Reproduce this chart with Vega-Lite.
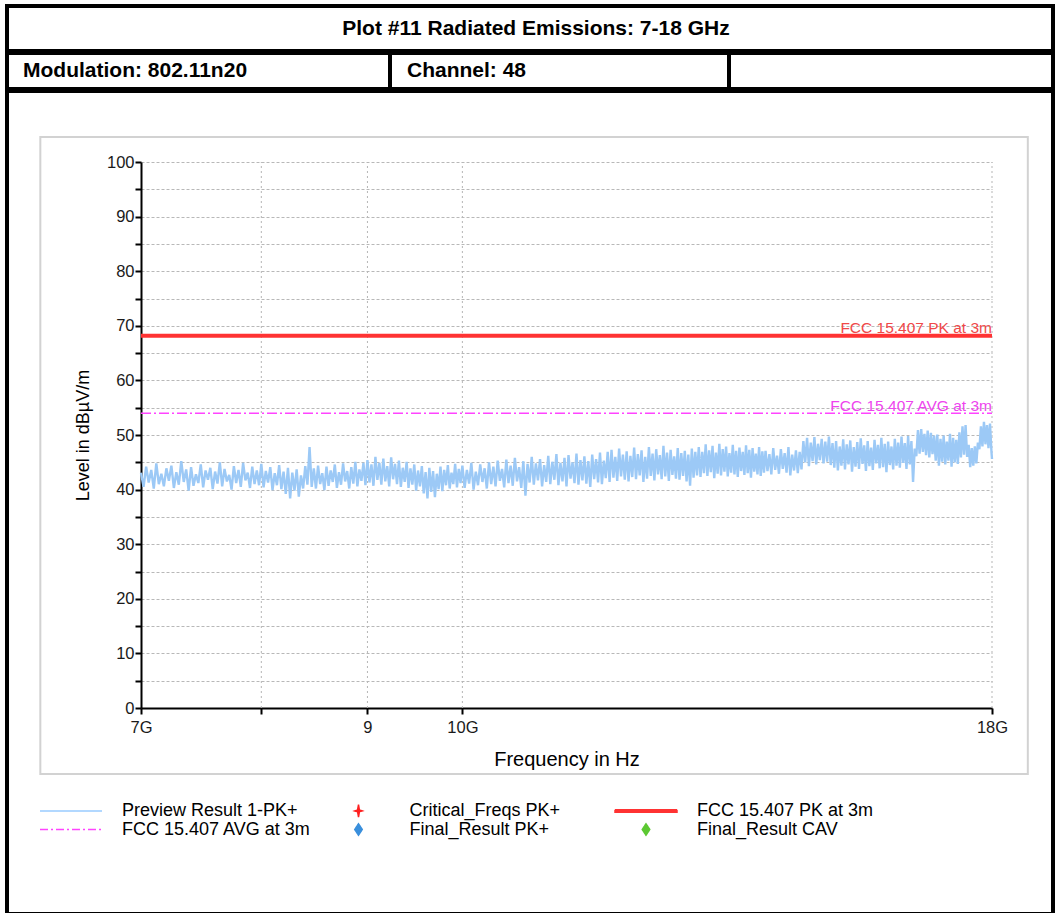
{
  "$schema": "https://vega.github.io/schema/vega-lite/v6.json",
  "background": "white",
  "padding": {"left": 5, "top": 4, "right": 0, "bottom": 0},
  "bounds": "full",
  "spacing": -4,
  "config": {
    "font": "Liberation Sans",
    "view": {"stroke": "black", "strokeWidth": 4},
    "concat": {"spacing": 0},
    "legend": {
      "orient": "none", "legendX": 55, "legendY": 795.5,
      "direction": "horizontal", "columns": 3, "gridAlign": "all",
      "columnPadding": 13.5, "rowPadding": -1, "padding": 0,
      "symbolSize": 100, "symbolOffset": 0, "symbolStrokeWidth": 1.5, "labelOffset": 42,
      "labelFontSize": 18, "labelColor": "black", "labelLimit": 400, "labelFont": "Liberation Sans"
    }
  },
  "vconcat": [
    {
      "width": 1046,
      "height": 45,
      "view": {"style": "cell", "stroke": "black", "strokeWidth": 4},
      "data": {"values": [{"t": "Plot #11 Radiated Emissions: 7-18 GHz"}]},
      "mark": {"type": "text", "fontSize": 21, "fontWeight": "bold", "baseline": "middle", "align": "center", "dx": 6, "color": "black"},
      "encoding": {"text": {"field": "t"}}
    },
    {
      "bounds": "flush",
      "spacing": 0,
      "hconcat": [
        {
          "width": 383,
          "height": 36,
          "view": {"style": "cell", "stroke": "black", "strokeWidth": 4},
          "data": {"values": [{"t": "Modulation: 802.11n20"}]},
          "mark": {"type": "text", "fontSize": 21, "fontWeight": "bold", "baseline": "middle", "align": "left", "dx": -175.5, "color": "black"},
          "encoding": {"text": {"field": "t"}}
        },
        {
          "width": 339,
          "height": 36,
          "view": {"style": "cell", "stroke": "black", "strokeWidth": 4},
          "data": {"values": [{"t": "Channel: 48"}]},
          "mark": {"type": "text", "fontSize": 21, "fontWeight": "bold", "baseline": "middle", "align": "left", "dx": -152.5, "color": "black"},
          "encoding": {"text": {"field": "t"}}
        },
        {
          "width": 324,
          "height": 36,
          "view": {"style": "cell", "stroke": "black", "strokeWidth": 4},
          "data": {"values": [{"t": ""}]},
          "mark": {"type": "text", "fontSize": 21},
          "encoding": {"text": {"field": "t"}}
        }
      ]
    },
    {
      "width": 1046,
      "height": 823,
      "layer": [
        {
          "data": {"values": [{}]},
          "mark": {"type": "rect", "fill": "transparent", "stroke": "#d2d2d2", "strokeWidth": 2},
          "encoding": {
            "x": {"datum": 6.26, "type": "quantitative"},
            "x2": {"datum": 18.73},
            "y": {"datum": -12.1, "type": "quantitative"},
            "y2": {"datum": 104.6}
          }
        },
        {
          "data": {"values": [{"f": 8}, {"f": 9}, {"f": 10}, {"f": 18}]},
          "mark": {"type": "rule", "color": "#b5b5b5", "strokeWidth": 1, "strokeDash": [2, 3]},
          "encoding": {
            "x": {"field": "f", "type": "quantitative"},
            "y": {"datum": 0, "type": "quantitative"},
            "y2": {"datum": 100}
          }
        },
        {
          "data": {"values": [
            {"f":7.00,"v":43.1},{"f":7.02,"v":40.5},{"f":7.04,"v":44.2},{"f":7.06,"v":41.3},{"f":7.08,"v":43.6},
            {"f":7.10,"v":40.2},{"f":7.12,"v":44.8},{"f":7.14,"v":41.0},{"f":7.16,"v":42.9},{"f":7.18,"v":40.6},
            {"f":7.20,"v":43.9},{"f":7.22,"v":41.6},{"f":7.24,"v":44.4},{"f":7.26,"v":40.3},{"f":7.28,"v":43.2},
            {"f":7.30,"v":40.9},{"f":7.32,"v":45.2},{"f":7.34,"v":41.4},{"f":7.36,"v":43.7},{"f":7.38,"v":39.8},
            {"f":7.40,"v":44.1},{"f":7.42,"v":40.7},{"f":7.44,"v":42.8},{"f":7.46,"v":41.2},{"f":7.48,"v":44.6},
            {"f":7.50,"v":40.4},{"f":7.52,"v":43.5},{"f":7.54,"v":41.8},{"f":7.56,"v":44.0},{"f":7.58,"v":40.1},
            {"f":7.60,"v":43.3},{"f":7.62,"v":41.1},{"f":7.64,"v":45.0},{"f":7.66,"v":40.6},{"f":7.68,"v":43.8},
            {"f":7.70,"v":41.5},{"f":7.72,"v":42.7},{"f":7.74,"v":40.0},{"f":7.76,"v":44.3},{"f":7.78,"v":41.2},
            {"f":7.80,"v":43.6},{"f":7.82,"v":40.5},{"f":7.84,"v":44.9},{"f":7.86,"v":41.7},{"f":7.88,"v":43.1},
            {"f":7.90,"v":40.3},{"f":7.92,"v":44.2},{"f":7.94,"v":41.0},{"f":7.96,"v":43.5},{"f":7.98,"v":40.8},
            {"f":8.00,"v":44.7},{"f":8.02,"v":40.4},{"f":8.04,"v":43.4},{"f":8.06,"v":41.3},{"f":8.08,"v":44.1},
            {"f":8.10,"v":39.9},{"f":8.12,"v":43.0},{"f":8.14,"v":40.8},{"f":8.16,"v":44.5},{"f":8.18,"v":40.1},
            {"f":8.20,"v":43.3},{"f":8.22,"v":39.2},{"f":8.24,"v":44.0},{"f":8.26,"v":38.4},{"f":8.28,"v":43.1},
            {"f":8.30,"v":39.8},{"f":8.32,"v":43.7},{"f":8.34,"v":38.7},{"f":8.36,"v":42.6},{"f":8.38,"v":40.2},
            {"f":8.40,"v":44.3},{"f":8.42,"v":40.9},{"f":8.44,"v":47.8},{"f":8.46,"v":40.5},{"f":8.48,"v":43.9},
            {"f":8.50,"v":40.2},{"f":8.52,"v":44.4},{"f":8.54,"v":41.0},{"f":8.56,"v":43.0},{"f":8.58,"v":39.9},
            {"f":8.60,"v":44.2},{"f":8.62,"v":40.7},{"f":8.64,"v":43.5},{"f":8.66,"v":41.4},{"f":8.68,"v":44.6},
            {"f":8.70,"v":40.3},{"f":8.72,"v":43.2},{"f":8.74,"v":40.9},{"f":8.76,"v":44.8},{"f":8.78,"v":41.5},
            {"f":8.80,"v":43.4},{"f":8.82,"v":40.2},{"f":8.84,"v":44.1},{"f":8.86,"v":41.1},{"f":8.88,"v":45.1},
            {"f":8.90,"v":40.6},{"f":8.92,"v":43.7},{"f":8.94,"v":41.6},{"f":8.96,"v":44.9},{"f":8.98,"v":40.8},
            {"f":9.00,"v":45.4},{"f":9.02,"v":41.3},{"f":9.04,"v":44.6},{"f":9.06,"v":40.7},{"f":9.08,"v":46.0},
            {"f":9.10,"v":41.8},{"f":9.12,"v":44.9},{"f":9.14,"v":40.9},{"f":9.16,"v":45.7},{"f":9.18,"v":41.5},
            {"f":9.20,"v":44.3},{"f":9.22,"v":40.6},{"f":9.24,"v":45.9},{"f":9.26,"v":41.9},{"f":9.28,"v":44.7},
            {"f":9.30,"v":41.0},{"f":9.32,"v":45.3},{"f":9.34,"v":40.5},{"f":9.36,"v":44.0},{"f":9.38,"v":41.4},
            {"f":9.40,"v":45.1},{"f":9.42,"v":40.3},{"f":9.44,"v":43.9},{"f":9.46,"v":40.9},{"f":9.48,"v":44.6},
            {"f":9.50,"v":39.8},{"f":9.52,"v":43.5},{"f":9.54,"v":40.6},{"f":9.56,"v":44.3},{"f":9.58,"v":39.3},
            {"f":9.60,"v":43.2},{"f":9.62,"v":38.4},{"f":9.64,"v":44.0},{"f":9.66,"v":39.6},{"f":9.68,"v":43.4},
            {"f":9.70,"v":38.6},{"f":9.72,"v":42.9},{"f":9.74,"v":40.1},{"f":9.76,"v":44.2},{"f":9.78,"v":39.7},
            {"f":9.80,"v":43.6},{"f":9.82,"v":40.8},{"f":9.84,"v":44.5},{"f":9.86,"v":40.2},{"f":9.88,"v":43.1},
            {"f":9.90,"v":41.0},{"f":9.92,"v":44.7},{"f":9.94,"v":40.4},{"f":9.96,"v":43.8},{"f":9.98,"v":41.2},
            {"f":10.000,"v":44.4},{"f":10.025,"v":40.3},{"f":10.050,"v":43.6},{"f":10.075,"v":41.1},{"f":10.100,"v":44.9},
            {"f":10.125,"v":40.0},{"f":10.150,"v":43.3},{"f":10.175,"v":40.8},{"f":10.200,"v":44.6},{"f":10.225,"v":41.4},
            {"f":10.250,"v":43.9},{"f":10.275,"v":40.2},{"f":10.300,"v":45.0},{"f":10.325,"v":41.0},{"f":10.350,"v":44.2},
            {"f":10.375,"v":40.6},{"f":10.400,"v":45.3},{"f":10.425,"v":41.6},{"f":10.450,"v":43.8},{"f":10.475,"v":40.4},
            {"f":10.500,"v":45.5},{"f":10.525,"v":41.2},{"f":10.550,"v":44.4},{"f":10.575,"v":40.7},{"f":10.600,"v":45.8},
            {"f":10.625,"v":41.5},{"f":10.650,"v":44.1},{"f":10.675,"v":40.3},{"f":10.700,"v":45.2},{"f":10.725,"v":38.9},
            {"f":10.750,"v":44.7},{"f":10.775,"v":41.3},{"f":10.800,"v":46.0},{"f":10.825,"v":40.9},{"f":10.850,"v":44.8},
            {"f":10.875,"v":41.7},{"f":10.900,"v":45.6},{"f":10.925,"v":40.6},{"f":10.950,"v":44.5},{"f":10.975,"v":41.4},
            {"f":11.000,"v":46.2},{"f":11.025,"v":41.0},{"f":11.050,"v":45.1},{"f":11.075,"v":41.8},{"f":11.100,"v":46.5},
            {"f":11.125,"v":40.8},{"f":11.150,"v":44.9},{"f":11.175,"v":41.5},{"f":11.200,"v":45.8},{"f":11.225,"v":40.6},
            {"f":11.250,"v":46.3},{"f":11.275,"v":42.0},{"f":11.300,"v":45.0},{"f":11.325,"v":41.2},{"f":11.350,"v":46.6},
            {"f":11.375,"v":40.9},{"f":11.400,"v":45.4},{"f":11.425,"v":41.7},{"f":11.450,"v":46.1},{"f":11.475,"v":41.1},
            {"f":11.500,"v":45.2},{"f":11.525,"v":40.5},{"f":11.550,"v":46.4},{"f":11.575,"v":41.9},{"f":11.600,"v":45.6},
            {"f":11.625,"v":41.3},{"f":11.650,"v":46.8},{"f":11.675,"v":41.0},{"f":11.700,"v":45.3},{"f":11.725,"v":42.1},
            {"f":11.750,"v":46.9},{"f":11.775,"v":41.4},{"f":11.800,"v":47.3},{"f":11.825,"v":42.2},{"f":11.850,"v":46.0},
            {"f":11.875,"v":41.6},{"f":11.900,"v":47.5},{"f":11.925,"v":42.4},{"f":11.950,"v":46.4},{"f":11.975,"v":41.8},
            {"f":12.000,"v":47.0},{"f":12.025,"v":41.5},{"f":12.050,"v":46.2},{"f":12.075,"v":42.3},{"f":12.100,"v":47.7},
            {"f":12.125,"v":41.9},{"f":12.150,"v":46.5},{"f":12.175,"v":42.6},{"f":12.200,"v":47.2},{"f":12.225,"v":41.4},
            {"f":12.250,"v":46.0},{"f":12.275,"v":42.0},{"f":12.300,"v":47.8},{"f":12.325,"v":42.5},{"f":12.350,"v":46.6},
            {"f":12.375,"v":41.7},{"f":12.400,"v":47.4},{"f":12.425,"v":42.8},{"f":12.450,"v":46.3},{"f":12.475,"v":41.9},
            {"f":12.500,"v":48.0},{"f":12.525,"v":42.4},{"f":12.550,"v":46.8},{"f":12.575,"v":41.6},{"f":12.600,"v":47.3},
            {"f":12.625,"v":42.7},{"f":12.650,"v":46.1},{"f":12.675,"v":42.0},{"f":12.700,"v":47.6},{"f":12.725,"v":41.8},
            {"f":12.750,"v":46.7},{"f":12.775,"v":42.5},{"f":12.800,"v":47.1},{"f":12.825,"v":41.5},{"f":12.850,"v":46.4},
            {"f":12.875,"v":40.7},{"f":12.900,"v":47.5},{"f":12.925,"v":42.2},{"f":12.950,"v":46.9},{"f":12.975,"v":42.6},
            {"f":13.000,"v":47.8},{"f":13.025,"v":42.3},{"f":13.050,"v":46.9},{"f":13.075,"v":43.0},{"f":13.100,"v":48.3},
            {"f":13.125,"v":42.5},{"f":13.150,"v":47.2},{"f":13.175,"v":43.2},{"f":13.200,"v":48.0},{"f":13.225,"v":42.1},
            {"f":13.250,"v":46.8},{"f":13.275,"v":42.9},{"f":13.300,"v":48.4},{"f":13.325,"v":42.6},{"f":13.350,"v":47.4},
            {"f":13.375,"v":43.3},{"f":13.400,"v":47.9},{"f":13.425,"v":42.4},{"f":13.450,"v":46.7},{"f":13.475,"v":43.1},
            {"f":13.500,"v":48.2},{"f":13.525,"v":42.8},{"f":13.550,"v":47.1},{"f":13.575,"v":42.3},{"f":13.600,"v":47.7},
            {"f":13.625,"v":43.4},{"f":13.650,"v":46.9},{"f":13.675,"v":42.7},{"f":13.700,"v":48.1},{"f":13.725,"v":43.0},
            {"f":13.750,"v":47.3},{"f":13.775,"v":42.2},{"f":13.800,"v":47.6},{"f":13.825,"v":43.3},{"f":13.850,"v":46.6},
            {"f":13.875,"v":42.8},{"f":13.900,"v":47.8},{"f":13.925,"v":42.5},{"f":13.950,"v":47.0},{"f":13.975,"v":43.1},
            {"f":14.00,"v":47.1},{"f":14.03,"v":43.4},{"f":14.06,"v":46.5},{"f":14.09,"v":42.8},{"f":14.12,"v":47.6},
            {"f":14.15,"v":43.6},{"f":14.18,"v":46.2},{"f":14.21,"v":42.9},{"f":14.24,"v":47.4},{"f":14.27,"v":43.8},
            {"f":14.30,"v":46.7},{"f":14.33,"v":43.1},{"f":14.36,"v":47.8},{"f":14.39,"v":42.6},{"f":14.42,"v":46.4},
            {"f":14.45,"v":43.5},{"f":14.48,"v":47.2},{"f":14.51,"v":43.0},{"f":14.54,"v":46.9},{"f":14.57,"v":43.7},
            {"f":14.60,"v":48.9},{"f":14.63,"v":45.0},{"f":14.66,"v":49.5},{"f":14.69,"v":44.3},{"f":14.72,"v":48.6},
            {"f":14.75,"v":45.2},{"f":14.78,"v":49.6},{"f":14.81,"v":44.6},{"f":14.84,"v":48.4},{"f":14.87,"v":45.4},
            {"f":14.90,"v":49.3},{"f":14.93,"v":44.8},{"f":14.96,"v":48.8},{"f":14.99,"v":45.1},{"f":15.02,"v":49.7},
            {"f":15.05,"v":44.5},{"f":15.08,"v":48.5},{"f":15.11,"v":44.0},{"f":15.14,"v":48.9},{"f":15.17,"v":43.5},
            {"f":15.20,"v":47.9},{"f":15.23,"v":44.4},{"f":15.26,"v":49.2},{"f":15.29,"v":43.7},{"f":15.32,"v":48.3},
            {"f":15.35,"v":44.6},{"f":15.38,"v":49.0},{"f":15.41,"v":43.3},{"f":15.44,"v":47.8},{"f":15.47,"v":44.2},
            {"f":15.50,"v":48.7},{"f":15.53,"v":43.8},{"f":15.56,"v":49.4},{"f":15.59,"v":44.7},{"f":15.62,"v":48.1},
            {"f":15.65,"v":43.4},{"f":15.68,"v":48.9},{"f":15.71,"v":44.3},{"f":15.74,"v":47.7},{"f":15.77,"v":43.6},
            {"f":15.80,"v":49.1},{"f":15.83,"v":44.8},{"f":15.86,"v":48.2},{"f":15.89,"v":43.9},{"f":15.92,"v":49.5},
            {"f":15.95,"v":44.1},{"f":15.98,"v":48.4},{"f":16.01,"v":43.2},{"f":16.04,"v":48.8},{"f":16.07,"v":44.5},
            {"f":16.10,"v":47.9},{"f":16.13,"v":43.7},{"f":16.16,"v":49.3},{"f":16.19,"v":44.4},{"f":16.22,"v":48.6},
            {"f":16.25,"v":44.0},{"f":16.28,"v":49.7},{"f":16.31,"v":44.9},{"f":16.34,"v":48.5},{"f":16.37,"v":43.8},
            {"f":16.40,"v":49.8},{"f":16.43,"v":44.6},{"f":16.46,"v":48.9},{"f":16.49,"v":41.4},{"f":16.52,"v":47.5},
            {"f":16.55,"v":46.1},{"f":16.58,"v":50.9},{"f":16.61,"v":46.6},{"f":16.64,"v":51.1},{"f":16.67,"v":46.9},
            {"f":16.70,"v":50.2},{"f":16.73,"v":46.3},{"f":16.76,"v":50.8},{"f":16.79,"v":45.9},{"f":16.82,"v":50.4},
            {"f":16.85,"v":46.5},{"f":16.88,"v":49.9},{"f":16.91,"v":45.3},{"f":16.94,"v":50.1},{"f":16.97,"v":44.4},
            {"f":17.00,"v":49.3},{"f":17.03,"v":45.1},{"f":17.06,"v":49.9},{"f":17.09,"v":44.6},{"f":17.12,"v":48.8},
            {"f":17.15,"v":45.3},{"f":17.18,"v":50.2},{"f":17.21,"v":44.2},{"f":17.24,"v":49.5},{"f":17.27,"v":45.0},
            {"f":17.30,"v":49.1},{"f":17.33,"v":44.7},{"f":17.36,"v":50.5},{"f":17.39,"v":45.9},{"f":17.42,"v":51.6},
            {"f":17.45,"v":46.4},{"f":17.48,"v":51.8},{"f":17.51,"v":46.0},{"f":17.54,"v":48.2},{"f":17.57,"v":44.1},
            {"f":17.60,"v":47.6},{"f":17.63,"v":44.4},{"f":17.66,"v":47.9},{"f":17.69,"v":44.8},{"f":17.72,"v":48.6},
            {"f":17.75,"v":47.4},{"f":17.78,"v":51.6},{"f":17.81,"v":47.9},{"f":17.84,"v":52.4},{"f":17.87,"v":48.3},
            {"f":17.90,"v":51.8},{"f":17.93,"v":47.6},{"f":17.96,"v":52.1},{"f":17.99,"v":46.8},{"f":18.00,"v":45.6}
          ]},
          "mark": {"type": "line", "color": "#9cc9f6", "strokeWidth": 2.4, "strokeJoin": "bevel"},
          "encoding": {
            "x": {
              "field": "f", "type": "quantitative",
              "scale": {"type": "log", "domain": [7, 18], "range": [134, 985], "nice": false},
              "axis": {
                "title": "Frequency in Hz",
                "values": [7, 8, 9, 10, 18],
                "labelExpr": "datum.value === 7 ? '7G' : datum.value === 9 ? '9' : datum.value === 10 ? '10G' : datum.value === 18 ? '18G' : ''",
                "grid": false,
                "offset": -206,
                "domainColor": "black", "domainWidth": 2,
                "tickColor": "black", "tickWidth": 2, "tickSize": 6,
                "labelFontSize": 16.5, "labelColor": "#1a1a1a", "labelPadding": 5,
                "labelFlush": false, "labelOverlap": false,
                "titleFontSize": 20, "titleFontWeight": "normal", "titleColor": "black", "titlePadding": 14
              }
            },
            "y": {
              "field": "v", "type": "quantitative",
              "scale": {"domain": [0, 100], "range": [617, 71], "nice": false, "zero": false},
              "axis": {
                "title": "Level in dBµV/m",
                "values": [0, 5, 10, 15, 20, 25, 30, 35, 40, 45, 50, 55, 60, 65, 70, 75, 80, 85, 90, 95, 100],
                "labelExpr": "datum.value % 10 === 0 ? datum.label : ''",
                "grid": true, "gridColor": "#b8b8b8", "gridDash": [3, 2], "gridWidth": 1,
                "offset": -134,
                "domainColor": "black", "domainWidth": 2,
                "tickColor": "black", "tickWidth": 2, "tickSize": 6,
                "labelFontSize": 16.5, "labelColor": "#1a1a1a", "labelPadding": 1, "labelOverlap": false,
                "titleFontSize": 18, "titleFontWeight": "normal", "titleColor": "black", "titlePadding": 14
              }
            }
          }
        },
        {
          "data": {"values": [{"v": 68.2}]},
          "mark": {"type": "rule", "color": "#ff3333", "strokeWidth": 4},
          "encoding": {
            "y": {"field": "v", "type": "quantitative"},
            "x": {"datum": 7, "type": "quantitative"},
            "x2": {"datum": 18}
          }
        },
        {
          "data": {"values": [{"v": 54.0}]},
          "mark": {"type": "rule", "color": "#ff44ff", "strokeWidth": 1.5, "strokeDash": [10, 3, 2, 3]},
          "encoding": {
            "y": {"field": "v", "type": "quantitative"},
            "x": {"datum": 7, "type": "quantitative"},
            "x2": {"datum": 18}
          }
        },
        {
          "data": {"values": [{"label": "FCC 15.407 PK at 3m", "v": 68.2}]},
          "mark": {"type": "text", "align": "right", "baseline": "alphabetic", "dy": -3, "fontSize": 15.5, "color": "#f04848"},
          "encoding": {
            "x": {"datum": 18, "type": "quantitative"},
            "y": {"field": "v", "type": "quantitative"},
            "text": {"field": "label"}
          }
        },
        {
          "data": {"values": [{"label": "FCC 15.407 AVG at 3m", "v": 54.0}]},
          "mark": {"type": "text", "align": "right", "baseline": "alphabetic", "dy": -2, "fontSize": 15.5, "color": "#ee44ee"},
          "encoding": {
            "x": {"datum": 18, "type": "quantitative"},
            "y": {"field": "v", "type": "quantitative"},
            "text": {"field": "label"}
          }
        },
        {
          "data": {"values": []},
          "mark": {"type": "point", "opacity": 1},
          "encoding": {
            "fill": {
              "field": "series", "type": "nominal",
              "scale": {
                "domain": ["Preview Result 1-PK+", "Critical_Freqs PK+", "FCC 15.407 PK at 3m", "FCC 15.407 AVG at 3m", "Final_Result PK+", "Final_Result CAV"],
                "range": ["transparent", "#ff2020", "#ff3333", "transparent", "#3a8fdc", "#5cc832"]
              },
              "legend": {"title": null}
            },
            "stroke": {
              "field": "series", "type": "nominal",
              "scale": {
                "domain": ["Preview Result 1-PK+", "Critical_Freqs PK+", "FCC 15.407 PK at 3m", "FCC 15.407 AVG at 3m", "Final_Result PK+", "Final_Result CAV"],
                "range": ["#99ccff", "#ff2020", "#ff3333", "#ff44ff", "#3a8fdc", "#5cc832"]
              },
              "legend": {"title": null}
            },
            "strokeDash": {
              "field": "series", "type": "nominal",
              "scale": {
                "domain": ["Preview Result 1-PK+", "Critical_Freqs PK+", "FCC 15.407 PK at 3m", "FCC 15.407 AVG at 3m", "Final_Result PK+", "Final_Result CAV"],
                "range": [[1, 0], [1, 0], [1, 0], [8, 3, 2, 3], [1, 0], [1, 0]]
              },
              "legend": {"title": null}
            },
            "shape": {
              "field": "series", "type": "nominal",
              "scale": {
                "domain": ["Preview Result 1-PK+", "Critical_Freqs PK+", "FCC 15.407 PK at 3m", "FCC 15.407 AVG at 3m", "Final_Result PK+", "Final_Result CAV"],
                "range": [
                  "M-6.2,0L6.2,0",
                  "M-6.2,0M0,-1.25L0.18,-0.18L0.75,0L0.18,0.18L0,1.25L-0.18,0.18L-0.75,0L-0.18,-0.18ZM6.2,0",
                  "M-6.2,-0.25L6.2,-0.25L6.2,0.25L-6.2,0.25Z",
                  "M-6.2,0L6.2,0",
                  "M-6.2,0M0,-1.15L0.75,0L0,1.15L-0.75,0ZM6.2,0",
                  "M-6.2,0M0,-1.15L0.75,0L0,1.15L-0.75,0ZM6.2,0"
                ]
              },
              "legend": {"title": null}
            }
          }
        }
      ]
    }
  ]
}
